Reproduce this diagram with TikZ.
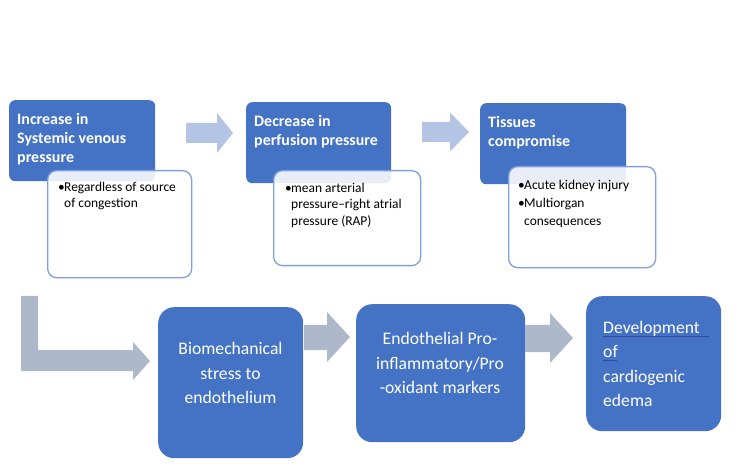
\documentclass[tikz,border=0pt]{standalone}
\usepackage{fontspec}
\setmainfont{Carlito}
\definecolor{boxblue}{HTML}{4472C4}
\definecolor{subedge}{HTML}{7FA0DC}
\definecolor{toparrow}{HTML}{B4C4E4}
\definecolor{botarrow}{HTML}{ADB9CA}
\definecolor{ulblue}{HTML}{2E4BA8}
\tikzset{
  topbox/.style={fill=boxblue, rounded corners=6bp, inner sep=0pt, anchor=north west},
  subbox/.style={fill=white, fill opacity=0.88, draw=subedge, line width=1.3bp, rounded corners=9bp, inner sep=0pt, anchor=north west},
  botbox/.style={fill=boxblue, rounded corners=16bp, inner sep=0pt, anchor=north west},
  toptext/.style={text=white, font=\fontsize{16}{19}\selectfont\bfseries, align=left, inner sep=0pt, anchor=north west},
  subtext/.style={text=black, font=\fontsize{13.5}{16.5}\selectfont, align=left, inner sep=0pt, anchor=north west},
  bottext/.style={text=white, font=\fontsize{17.7}{24.5}\selectfont, inner sep=0pt},
  toparr/.style={fill=toparrow},
  botarr/.style={fill=botarrow},
}
\newcommand{\bul}{\makebox[6bp][l]{•}}
\newcommand{\ind}{\hspace*{6bp}}
\begin{document}
\begin{tikzpicture}[x=1bp, y=-1bp]
\useasboundingbox (0,0) rectangle (750,467);
% top row
\node[topbox, minimum width=146bp, minimum height=81bp] (A) at (9,100) {};
\node[subbox, minimum width=144bp, minimum height=107bp] (As) at (47,170) {};
\node[toptext] (At) at (17,113) {Increase in\\Systemic venous\\pressure};
\node[subtext] (Ast) at (58,182) {\bul Regardless of source\\\ind of congestion};

\node[topbox, minimum width=145bp, minimum height=81bp] (B) at (246,102) {};
\node[subbox, minimum width=147bp, minimum height=95bp] (Bs) at (273,170) {};
\node[toptext] (Bt) at (254,115) {Decrease in\\perfusion pressure};
\node[subtext] (Bst) at (285,183) {\bul mean arterial\\\ind pressure–right atrial\\\ind pressure (RAP)};

\node[topbox, minimum width=146bp, minimum height=81bp] (C) at (480,103) {};
\node[subbox, minimum width=147bp, minimum height=101bp] (Cs) at (508,166) {};
\node[toptext] (Ct) at (488,116) {Tissues\\compromise};
\node[subtext, font=\fontsize{13.5}{18}\selectfont] (Cst) at (518,180) {\bul Acute kidney injury\\\bul Multiorgan\\\ind consequences};

% top block arrows
\fill[toparr] (186,123) -- (217,123) -- (217,113) -- (233,133) -- (217,153) -- (217,143) -- (186,143) -- cycle;
\fill[toparr] (422,122) -- (450,122) -- (450,112.5) -- (469,132) -- (450,151.5) -- (450,142) -- (422,142) -- cycle;

% bottom row
\node[botbox, minimum width=145bp, minimum height=151bp] (D) at (158,307) {};
\node[botbox, minimum width=169bp, minimum height=138bp] (E) at (356,304) {};
\node[botbox, minimum width=135bp, minimum height=135bp] (F) at (586,296) {};
\node[bottext, align=center] (Dt) at (230.5,373) {Biomechanical\\stress to\\endothelium};
\node[bottext, align=center] (Et) at (440,363) {Endothelial Pro-\\inflammatory/Pro\\-oxidant markers};
\node[bottext, align=left, anchor=west] (Ft) at (603,364) {Development\\of\\cardiogenic\\edema};

% bottom block arrows
\fill[botarr] (304,325) -- (327,325) -- (327,312) -- (350,337) -- (327,362) -- (327,350) -- (304,350) -- cycle;
\fill[botarr] (525,325) -- (550,325) -- (550,313) -- (573,338) -- (550,363) -- (550,352) -- (525,352) -- cycle;

% L-shaped arrow
\coordinate (L0) at (21,296);
\coordinate (Ltip) at (150,361);
\fill[botarr] (L0) -- (38,296) -- (38,350) -- (133,350) -- (133,342) -- (Ltip) -- (133,380) -- (133,371) -- (21,371) -- cycle;

% spell-check underlines
\draw[ulblue, line width=0.9bp] (603,336) -- (709,336);
\draw[ulblue, line width=0.9bp] (603,360) -- (617,360);
\end{tikzpicture}
\end{document}
